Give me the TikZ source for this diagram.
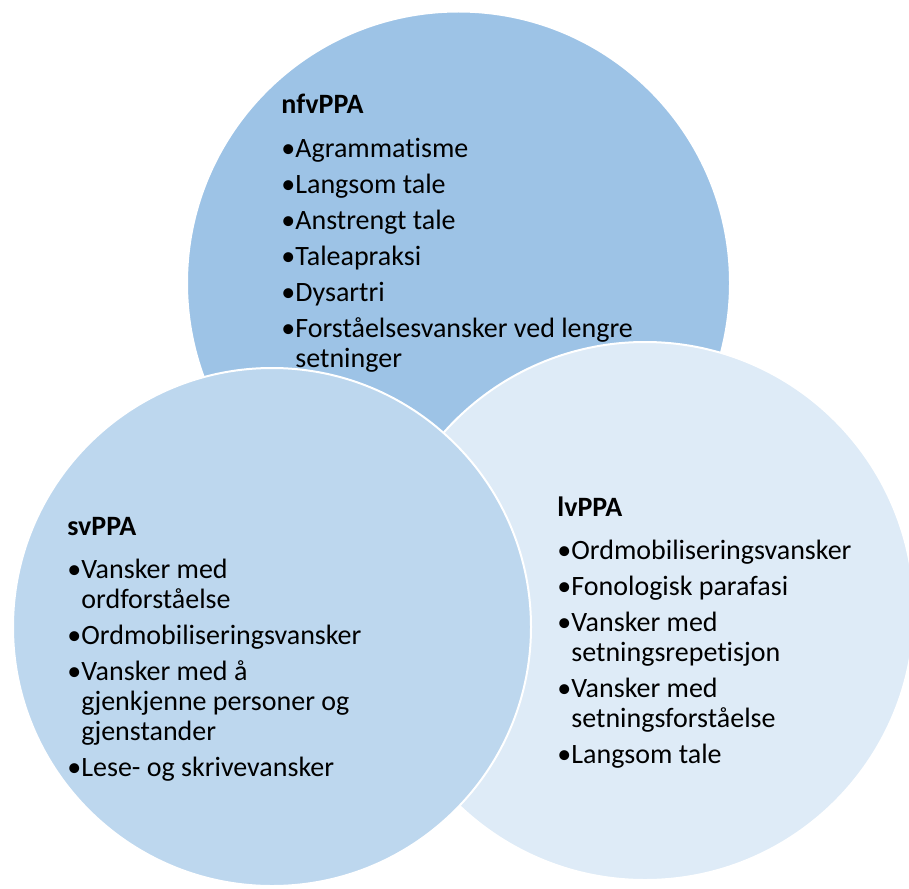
\documentclass[tikz,border=0pt]{standalone}
\usepackage{fontspec}
\setmainfont{Carlito}[Ligatures={NoCommon}]
\usepackage{xcolor}
\usepackage{tikz}
\definecolor{C0}{HTML}{9DC3E6}
\definecolor{C1}{HTML}{BDD7EE}
\definecolor{C2}{HTML}{DEEBF7}
\newcommand{\kule}{\makebox[7pt][l]{•}}
\tikzset{
  sirkel/.style={draw=white, line width=1pt},
  tittel/.style={anchor=base west, inner sep=0pt, font=\fontsize{14}{15}\selectfont\bfseries},
  linje/.style={anchor=base west, inner sep=0pt, font=\fontsize{14}{15}\selectfont},
}
\begin{document}
\begin{tikzpicture}[x=0.5pt, y=-0.5pt]%
\useasboundingbox (0,0) rectangle (909,888);%
\clip (0,0) rectangle (909,888);%
% sirklene
\draw[sirkel, fill=C0] (458.5,283) circle[radius=271.5];%
\draw[sirkel, fill=C2] (645,611) circle[radius=269];%
\draw[sirkel, fill=C1] (272,627) circle[radius=259];%
% nfvPPA
\node[tittel] (nfv) at (281,113) {nfvPPA};%
\node[linje] (nfv1) at (281,157) {\kule Agrammatisme};%
\node[linje] (nfv2) at (281,193) {\kule Langsom tale};%
\node[linje] (nfv3) at (281,229) {\kule Anstrengt tale};%
\node[linje] (nfv4) at (281,265) {\kule Taleapraksi};%
\node[linje] (nfv5) at (281,301) {\kule Dysartri};%
\node[linje] (nfv6) at (281,337) {\kule Forståelsesvansker ved lengre};%
\node[linje] (nfv6b) at (295,367) {setninger};%
% svPPA
\node[tittel] (sv) at (67,535) {svPPA};%
\node[linje] (sv1) at (67,578) {\kule Vansker med};%
\node[linje] (sv1b) at (81,608) {ordforståelse};%
\node[linje] (sv2) at (67,644) {\kule Ordmobiliseringsvansker};%
\node[linje] (sv3) at (67,680) {\kule Vansker med å};%
\node[linje] (sv3b) at (81,710) {gjenkjenne personer og};%
\node[linje] (sv3c) at (81,740) {gjenstander};%
\node[linje] (sv4) at (67,776) {\kule Lese- og skrivevansker};%
% lvPPA
\node[tittel] (lv) at (557,516) {lvPPA};%
\node[linje] (lv1) at (557,559) {\kule Ordmobiliseringsvansker};%
\node[linje] (lv2) at (557,595) {\kule Fonologisk parafasi};%
\node[linje] (lv3) at (557,631) {\kule Vansker med};%
\node[linje] (lv3b) at (571,661) {setningsrepetisjon};%
\node[linje] (lv4) at (557,697) {\kule Vansker med};%
\node[linje] (lv4b) at (571,727) {setningsforståelse};%
\node[linje] (lv5) at (557,763) {\kule Langsom tale};%
\end{tikzpicture}
\end{document}
